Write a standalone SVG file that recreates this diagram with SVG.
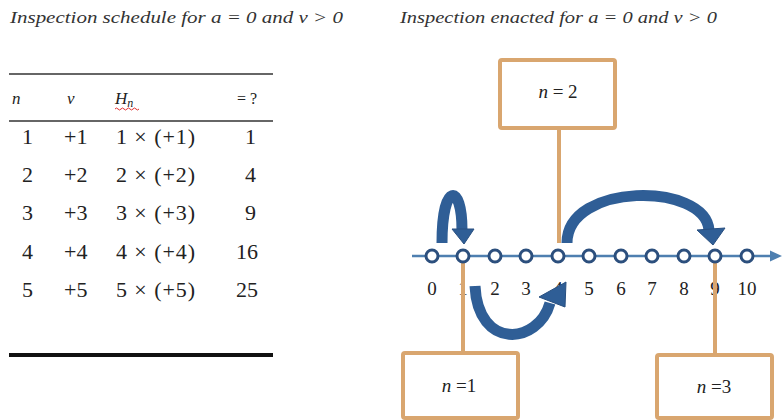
<svg xmlns="http://www.w3.org/2000/svg" width="783" height="420" viewBox="0 0 783 420" font-family="'Liberation Serif', 'Times New Roman', serif">
<style>
text{font-family:"Liberation Serif","Times New Roman",serif}
.t{fill:#222}
.ti{font-style:italic;fill:#333;font-size:17px}
.c{font-size:22px}
.h{font-size:17px;font-style:italic}
.lab{font-size:19px}
.box{fill:#fff;stroke:#D9A66F;stroke-width:4}
.stem{stroke:#D9A66F;stroke-width:4;fill:none}
.node{fill:#fff;stroke:#2C4F7D;stroke-width:3}
.band{fill:none;stroke:#2F5E96;stroke-width:11}
.head{fill:#2F5E96;stroke:#284F80;stroke-width:1}
</style>
<rect width="783" height="420" fill="#fff"/>
<text class="ti" x="10" y="23" textLength="333" lengthAdjust="spacingAndGlyphs">Inspection schedule for a = 0 and v &gt; 0</text>
<text class="ti" x="400" y="23" textLength="317" lengthAdjust="spacingAndGlyphs">Inspection enacted for a = 0 and v &gt; 0</text>
<g id="table">
<line x1="9" y1="74" x2="273" y2="74" stroke="#333" stroke-width="1.6"/>
<line x1="9" y1="121" x2="273" y2="121" stroke="#333" stroke-width="1.6"/>
<line x1="9" y1="355" x2="273" y2="355" stroke="#111" stroke-width="4"/>
<text class="t h" x="12" y="104">n</text>
<text class="t h" x="67" y="104">v</text>
<text class="t h" x="115" y="104">H<tspan font-size="12" dy="3">n</tspan></text>
<path d="M115,109 q1.5,-2 3,0 t3,0 t3,0 t3,0 t3,0 t3,0 t3,0 t3,0" fill="none" stroke="#E03030" stroke-width="1"/>
<text class="t" x="257" y="104" font-size="16" text-anchor="end">= ?</text>
<g class="t c">
<text x="22" y="144">1</text><text x="64" y="144">+1</text><text x="116" y="144" textLength="79">1 × (+1)</text><text x="256" y="144" text-anchor="end">1</text>
<text x="22" y="182">2</text><text x="64" y="182">+2</text><text x="116" y="182" textLength="79">2 × (+2)</text><text x="256" y="182" text-anchor="end">4</text>
<text x="22" y="220">3</text><text x="64" y="220">+3</text><text x="116" y="220" textLength="79">3 × (+3)</text><text x="256" y="220" text-anchor="end">9</text>
<text x="22" y="259">4</text><text x="64" y="259">+4</text><text x="116" y="259" textLength="79">4 × (+4)</text><text x="258" y="259" text-anchor="end">16</text>
<text x="22" y="297">5</text><text x="64" y="297">+5</text><text x="116" y="297" textLength="79">5 × (+5)</text><text x="258" y="297" text-anchor="end">25</text>
</g>
</g>
<g id="axis">
<line x1="412" y1="256" x2="771" y2="256" stroke="#4E7FB0" stroke-width="2.5"/>
<polygon points="770,250.5 782,256 770,261.5" fill="#4E7FB0"/>
<g class="t lab" text-anchor="middle">
<text x="432" y="295">0</text><text x="463" y="295">1</text><text x="495" y="295">2</text><text x="526" y="295">3</text><text x="558" y="295">4</text><text x="589" y="295">5</text><text x="621" y="295">6</text><text x="652" y="295">7</text><text x="684" y="295">8</text><text x="715" y="295">9</text><text x="747" y="295">10</text>
</g>
</g>
<g id="connectors">
<line class="stem" x1="559" y1="128" x2="559" y2="243"/>
<line class="stem" x1="463" y1="262" x2="463" y2="353"/>
<line class="stem" x1="715" y1="262" x2="715" y2="355"/>
<path class="band" d="M442,243 C442,182 462,182 462,230"/>
<polygon class="head" points="452,229 474,229 464,244"/>
<path class="band" stroke-width="12" d="M475,286 C478,350 538,345 550,303"/>
<polygon class="head" points="539,297 565,307 566,282"/>
<path class="band" stroke-width="13" d="M567,243 C567,182 705,182 709,230"/>
<polygon class="head" points="697,230 725,228 713,245"/>
</g>
<g id="ticks">
<circle class="node" cx="432" cy="256" r="6"/><circle class="node" cx="463" cy="256" r="6"/><circle class="node" cx="495" cy="256" r="6"/><circle class="node" cx="526" cy="256" r="6"/><circle class="node" cx="558" cy="256" r="6"/><circle class="node" cx="589" cy="256" r="6"/><circle class="node" cx="621" cy="256" r="6"/><circle class="node" cx="652" cy="256" r="6"/><circle class="node" cx="684" cy="256" r="6"/><circle class="node" cx="715" cy="256" r="6"/><circle class="node" cx="747" cy="256" r="6"/>
</g>
<g id="box-n2">
<rect class="box" x="500" y="60" width="115" height="68" rx="2"/>
<text class="t lab" x="558" y="98" text-anchor="middle"><tspan font-style="italic">n</tspan> = 2</text>
</g>
<g id="box-n1">
<rect class="box" x="403" y="353" width="115" height="65" rx="2"/>
<text class="t lab" x="459" y="392" text-anchor="middle"><tspan font-style="italic">n</tspan> =1</text>
</g>
<g id="box-n3">
<rect class="box" x="657" y="355" width="115" height="63" rx="2"/>
<text class="t lab" x="714" y="393" text-anchor="middle"><tspan font-style="italic">n</tspan> =3</text>
</g>
</svg>
